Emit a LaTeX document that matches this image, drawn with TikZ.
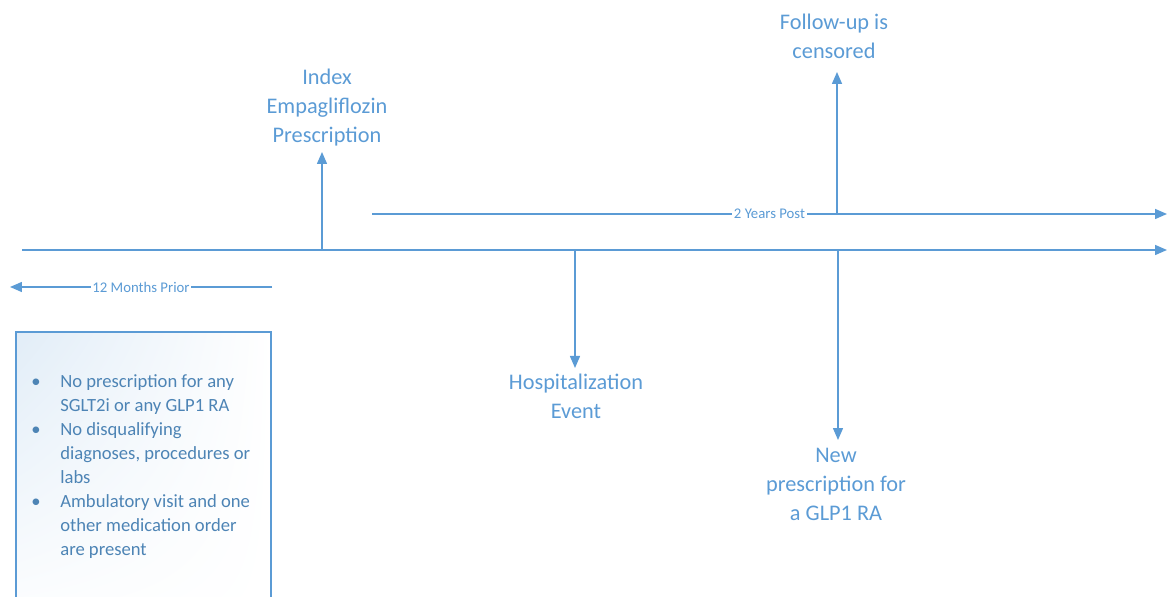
\documentclass[tikz,border=0pt]{standalone}
\usepackage{fontspec}
\setmainfont{Carlito}
\usetikzlibrary{arrows.meta,shadings}
\definecolor{zeitblau}{RGB}{91,155,213}
\tikzset{%
		zeit/.style={draw=zeitblau,line width=.03cm},
		pfeil/.style={zeit,-{Triangle[length=.24cm,width=.2cm]}},
		ereignis/.style={text=zeitblau,align=center,inner sep=0pt,font=\fontsize{12.7}{16.5}\selectfont},
		spanne/.style={text=zeitblau,fill=white,inner sep=1pt,font=\fontsize{8.4}{10}\selectfont},
		liste/.style={text=zeitblau!85!black,inner sep=0pt,font=\fontsize{10.6}{13.66}\selectfont}
	}

\begin{document}
\begin{tikzpicture}[x=.02cm,y=-.02cm]
    \clip (0,0) rectangle (1167,597) ;
    % Zeitachsen
    \coordinate (achseA) at (22,250) ;
    \coordinate (achseE) at (1167,250) ;
    \coordinate (postA) at (372,214) ;
    \coordinate (postE) at (1167,214) ;
    \coordinate (vorA) at (272,287) ;
    \coordinate (vorE) at (10,287) ;
    \draw[pfeil] (achseA) -- (achseE) ;
    \draw[pfeil] (postA) -- (postE) node[spanne,midway] (post) {2 Years Post} ;
    \draw[pfeil] (vorA) -- (vorE) node[spanne,midway] (vor) {12 Months Prior} ;
    % Ereignisse
    \coordinate (index) at (322,250) ;
    \coordinate (zensur) at (837,214) ;
    \coordinate (hosp) at (575,250) ;
    \coordinate (neu) at (838,250) ;
    \node[ereignis,anchor=south] (indexT) at (327,146) {Index\\Empagliflozin\\Prescription} ;
    \node[ereignis,anchor=south] (zensurT) at (834,59) {Follow-up is\\censored} ;
    \node[ereignis,anchor=north] (hospT) at (576,374) {Hospitalization\\Event} ;
    \node[ereignis,anchor=north] (neuT) at (836,448) {New\\prescription for\\a GLP1 RA} ;
    \draw[pfeil,shorten >=.12cm] (index) -- (index |- indexT.south) ;
    \draw[pfeil,shorten >=.26cm] (zensur) -- (zensur |- zensurT.south) ;
    \draw[pfeil,shorten >=.12cm] (hosp) -- (hosp |- hospT.north) ;
    \draw[pfeil,shorten >=.16cm] (neu) -- (neu |- neuT.north) ;
    % Kasten
    \shadedraw[upper left=zeitblau!18,upper right=white,lower left=white,lower right=white,draw=zeitblau,line width=.025cm] (16,332) rectangle (271,640) ;
    \node[liste,anchor=north west] (krit) at (31,370) {%
        \begin{tabular}{@{}p{.58cm}@{}l@{}}
        \textbullet & No prescription for any\\
                    & SGLT2i or any GLP1 RA\\
        \textbullet & No disqualifying\\
                    & diagnoses, procedures or\\
                    & labs\\
        \textbullet & Ambulatory visit and one\\
                    & other medication order\\
                    & are present
        \end{tabular}} ;
\end{tikzpicture}
\end{document}
